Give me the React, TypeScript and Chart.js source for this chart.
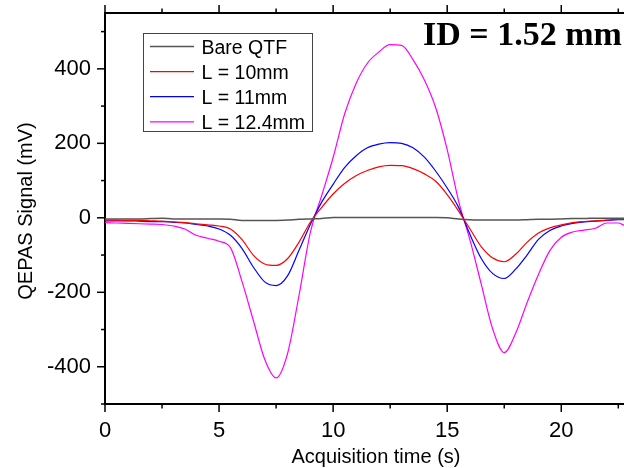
import React, { useEffect, useRef } from "react";
import { Chart, registerables } from "chart.js";

Chart.register(...registerables);

// ---------- data ----------
const times = [0, 0.5, 1, 1.5, 2, 2.5, 3, 3.5, 4, 4.5, 5, 5.5, 6, 6.5, 7, 7.5, 8, 8.5, 9, 9.5, 10, 10.5, 11, 11.5, 12, 12.5, 13, 13.5, 14, 14.5, 15, 15.5, 16, 16.5, 17, 17.5, 18, 18.5, 19, 19.5, 20, 20.5, 21, 21.5, 22, 22.5, 22.75];

const bareQTF = [-3, -3, -3, -3, -2, -1, -3, -3, -3, -3, -3, -4, -7, -7, -7, -7, -6, -4, -3, -2, 1, 1, 1, 1, 1, 1, 1, 1, 1, 1, 0, -3, -5, -6, -6, -6, -6, -5, -4, -4, -3, -2, -2, -1, -1, -1, -1];

const l10mm = [-6, -6, -7, -7, -8, -9, -11, -13, -16, -19, -22, -30, -58, -100, -124, -128, -110, -66, -12, 28, 64, 92, 113, 127, 137, 141, 140, 132, 118, 98, 62, 18, -30, -78, -108, -118, -98, -66, -41, -27, -19, -13, -10, -8, -6, -4, -4];

const l11mm = [-8, -8, -8, -9, -10, -10, -12, -14, -18, -22, -30, -47, -82, -132, -172, -182, -156, -88, -18, 42, 90, 135, 166, 188, 198, 202, 200, 188, 163, 125, 80, 28, -45, -110, -150, -163, -138, -100, -58, -34, -22, -15, -11, -9, -7, -5, -5];

const l124mm = [-13, -14, -15, -16, -17, -18, -22, -30, -47, -55, -63, -80, -170, -275, -380, -430, -365, -210, -40, 60, 162, 278, 360, 415, 445, 465, 463, 425, 370, 295, 183, 45, -60, -180, -300, -362, -310, -228, -152, -88, -52, -38, -33, -28, -14, -14, -20];

const seriesLabels = ["Bare QTF", "L = 10mm", "L = 11mm", "L = 12.4mm"];
const seriesColors = ["#555555", "#ff0000", "#0000ff", "#ff00ff"];
const seriesWidths = [1.5, 1.2, 1.2, 1.2];

const xMajorTicks = [0, 5, 10, 15, 20];
const xMinorTicks = [2.5, 7.5, 12.5, 17.5, 22.5];
const yMajorTicks = [-400, -200, 0, 200, 400];
const yMinorTicks = [-500, -300, -100, 100, 300, 500];

const xTitle = "Acquisition time (s)";
const yTitle = "QEPAS Signal (mV)";
const annotationText = "ID = 1.52 mm";

const SANS = '"Liberation Sans", Arial, sans-serif';
const SERIF = '"Liberation Serif", "Times New Roman", serif';

const decorations = {
  id: "decorations",
  afterDraw(chart: any) {
    const { ctx, chartArea, scales } = chart;
    const x = scales.x;
    const y = scales.y;
    ctx.save();
    ctx.strokeStyle = "#000";
    ctx.lineWidth = 1.5;

    const line = (x1: number, y1: number, x2: number, y2: number) => {
      ctx.beginPath();
      ctx.moveTo(x1, y1);
      ctx.lineTo(x2, y2);
      ctx.stroke();
    };

    // bottom + top ticks
    xMajorTicks.forEach((v) => {
      const px = x.getPixelForValue(v);
      line(px, chartArea.bottom, px, chartArea.bottom + 8);
      line(px, chartArea.top, px, chartArea.top - 8);
    });
    xMinorTicks.forEach((v) => {
      const px = x.getPixelForValue(v);
      line(px, chartArea.bottom, px, chartArea.bottom + 4.5);
      line(px, chartArea.top, px, chartArea.top - 4.5);
    });
    // left ticks
    yMajorTicks.forEach((v) => {
      const py = y.getPixelForValue(v);
      line(chartArea.left, py, chartArea.left - 8, py);
    });
    yMinorTicks.forEach((v) => {
      const py = y.getPixelForValue(v);
      line(chartArea.left, py, chartArea.left - 4, py);
    });

    // top border
    ctx.lineWidth = 2;
    line(chartArea.left - 1, chartArea.top, chartArea.right, chartArea.top);

    // titles
    ctx.fillStyle = "#000";
    ctx.font = `20px ${SANS}`;
    ctx.textAlign = "center";
    ctx.textBaseline = "alphabetic";
    ctx.fillText(xTitle, 376, 463);

    ctx.save();
    ctx.translate(31.5, 211);
    ctx.rotate(-Math.PI / 2);
    ctx.fillText(yTitle, 0, 0);
    ctx.restore();

    // annotation
    ctx.font = `bold 34px ${SERIF}`;
    ctx.textAlign = "left";
    ctx.fillText(annotationText, 423, 45);

    // legend
    ctx.lineWidth = 1;
    ctx.strokeStyle = "#444";
    ctx.strokeRect(143.5, 33.5, 169, 98);
    ctx.font = `19.5px ${SANS}`;
    ctx.textAlign = "left";
    chart.data.datasets.forEach((ds: any, i: number) => {
      const ly = 46.5 + i * 25.1;
      ctx.strokeStyle = ds.borderColor;
      ctx.lineWidth = ds.borderWidth;
      line(150, ly, 194, ly);
      ctx.fillStyle = "#000";
      ctx.fillText(ds.label, 201.5, 54 + i * 25.1);
    });

    ctx.restore();
  },
};

export default function App() {
  const canvasRef = useRef<HTMLCanvasElement | null>(null);

  useEffect(() => {
    const canvas = canvasRef.current;
    if (!canvas) return;
    const seriesValues = [bareQTF, l10mm, l11mm, l124mm];
    const chart = new Chart(canvas, {
      type: "line",
      data: {
        datasets: seriesValues.map((vals, i) => ({
          label: seriesLabels[i],
          data: times.map((t, j) => ({ x: t, y: vals[j] })),
          borderColor: seriesColors[i],
          backgroundColor: seriesColors[i],
          borderWidth: seriesWidths[i],
          pointRadius: 0,
          cubicInterpolationMode: "monotone",
          fill: false,
        })),
      },
      options: {
        animation: false,
        responsive: false,
        devicePixelRatio: 1,
        layout: { padding: { top: 13, right: 0, bottom: 0, left: 0 } },
        plugins: {
          legend: { display: false },
          tooltip: { enabled: false },
          title: { display: false },
        },
        scales: {
          x: {
            type: "linear",
            position: "bottom",
            min: 0,
            max: 22.75,
            afterFit: (s: any) => {
              s.height = 64;
              s.paddingLeft = 0;
              s.paddingRight = 0;
            },
            afterBuildTicks: (s: any) => {
              s.ticks = xMajorTicks.map((v) => ({ value: v }));
            },
            border: { display: true, color: "#000", width: 2 },
            grid: {
              display: true,
              drawOnChartArea: false,
              drawTicks: true,
              tickLength: 8,
              tickColor: "rgba(0,0,0,0)",
            },
            ticks: {
              color: "#000",
              font: { family: SANS, size: 22 },
              padding: 6,
              maxRotation: 0,
              autoSkip: false,
              callback: (v: any) => String(v),
            },
          },
          y: {
            type: "linear",
            min: -500,
            max: 550,
            afterFit: (s: any) => {
              s.width = 105;
              s.paddingTop = 0;
              s.paddingBottom = 0;
            },
            afterBuildTicks: (s: any) => {
              s.ticks = yMajorTicks.map((v) => ({ value: v }));
            },
            border: { display: true, color: "#000", width: 2 },
            grid: {
              display: true,
              drawOnChartArea: false,
              drawTicks: true,
              tickLength: 8,
              tickColor: "rgba(0,0,0,0)",
            },
            ticks: {
              color: "#000",
              font: { family: SANS, size: 22 },
              padding: 6,
              autoSkip: false,
              callback: (v: any) => String(v),
            },
          },
        },
      },
      plugins: [decorations],
    });
    return () => chart.destroy();
  }, []);

  return (
    <div style={{ position: "absolute", left: 0, top: 0, width: 624, height: 468, background: "#fff" }}>
      <canvas ref={canvasRef} width={624} height={468} style={{ display: "block", width: 624, height: 468 }} />
    </div>
  );
}
